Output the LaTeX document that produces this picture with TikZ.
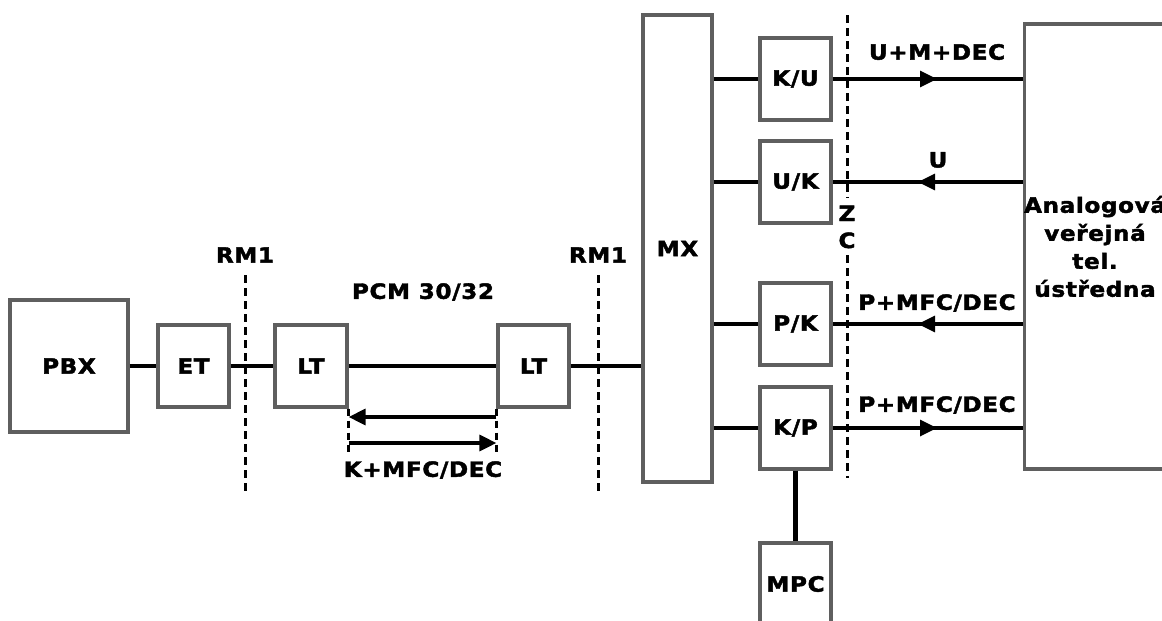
\documentclass[tikz,border=0pt]{standalone}
\usepackage{fontspec}
\setsansfont{DejaVu Sans}[FakeStretch=1.1, LetterSpace=3, BoldFeatures={FakeBold=2}]
\usetikzlibrary{arrows.meta, positioning, decorations.markings}
\definecolor{boxGray}{HTML}{5F5F5F}
\begin{document}
\begin{tikzpicture}[x=1pt, y=-1pt,
  blk/.style={draw=boxGray, line width=3.2pt, fill=white, inner sep=0pt,
    font=\sffamily\bfseries\fontsize{21}{28}\selectfont},
  lbl/.style={font=\sffamily\bfseries\fontsize{21}{27}\selectfont, inner sep=0pt},
  wire/.style={line width=3.2pt},
  cut/.style={line width=3pt, dash pattern=on 8pt off 5pt},
  tick/.style={line width=2.5pt, dash pattern=on 7pt off 5pt},
  tip/.style={-{Triangle[length=17pt,width=16pt]}},
  flow/.style={wire, postaction={decorate}, decoration={markings,
    mark=at position 0.55 with {\arrow{Triangle[length=17pt,width=16pt]}}}},
]
  \useasboundingbox (0,0) rectangle (1162,621);
  % ---- left side: PBX -- ET -- LT ~ LT ----
  \node[blk, minimum width=118, minimum height=132] (pbx) at (69,366) {PBX};
  \node[blk, minimum width=71, minimum height=82] (et) at (193.5,366) {ET};
  \node[blk, minimum width=72, minimum height=82] (lt1) at (311,366) {LT};
  \node[blk, minimum width=71, minimum height=82] (lt2) at (533.5,366) {LT};
  \draw[wire] (pbx.east) -- (et.west);
  \draw[wire] (et.east) -- (lt1.west);
  \draw[wire] (lt1.east) -- (lt2.west);
  \node[lbl] (pcm) at (423,292) {PCM 30/32};
  % signalling between the two LT
  \coordinate (sigY) at (0,456);
  \draw[tick] (lt1.south east) -- (lt1.south east |- sigY);
  \draw[tick] (lt2.south west) -- (lt2.south west |- sigY);
  \coordinate (backY) at (0,417); \coordinate (fwdY) at (0,443);
  \draw[wire, tip] (lt2.south west |- backY) -- (lt1.south east |- backY);
  \draw[wire, tip] (lt1.south east |- fwdY) -- (lt2.south west |- fwdY);
  \node[lbl] (kmfc) at (423,470) {K+MFC/DEC};
  % ---- RM1 cut lines ----
  \coordinate (rmA1) at (245,275); \coordinate (rmA2) at (245,495);
  \coordinate (rmB1) at (598,275); \coordinate (rmB2) at (598,495);
  \draw[cut] (rmA1) -- (rmA2);
  \draw[cut] (rmB1) -- (rmB2);
  \node[lbl] (rmA) at (245,255) {RM1};
  \node[lbl] (rmB) at (598,255) {RM1};
  % ---- multiplexer and converters ----
  \node[blk, minimum width=69, minimum height=467] (mx) at (677.5,248.5) {MX};
  \draw[wire] (lt2.east) -- (lt2.east -| mx.west);
  \node[blk, minimum width=71, minimum height=82] (ku) at (795.5,79) {K/U};
  \node[blk, minimum width=71, minimum height=82] (uk) at (795.5,182) {U/K};
  \node[blk, minimum width=71, minimum height=82] (pk) at (795.5,324) {P/K};
  \node[blk, minimum width=71, minimum height=82] (kp) at (795.5,428) {K/P};
  \node[blk, minimum width=71, minimum height=82] (mpc) at (795.5,584) {MPC};
  \foreach \b in {ku, uk, pk, kp}
    \draw[wire] (mx.east |- \b.west) -- (\b.west);
  \draw[line width=4.5pt] (kp.south) -- (mpc.north);
  % ---- exchange ----
  \node[blk, align=center, minimum width=140, minimum height=445] (an) at (1095,246.5)
    {Analogová\\veřejná\\tel.\\ústředna};
  \draw[flow] (ku.east) -- (ku.east -| an.west);
  \draw[flow] (an.west |- uk.east) -- (uk.east);
  \draw[flow] (an.west |- pk.east) -- (pk.east);
  \draw[flow] (kp.east) -- (kp.east -| an.west);
  \node[lbl] (sKU) at (937,52) {U+M+DEC};
  \node[lbl] (sUK) at (938,160) {U};
  \node[lbl] (sPK) at (937,303) {P+MFC/DEC};
  \node[lbl] (sKP) at (937,405) {P+MFC/DEC};
  % ---- ZC cut line ----
  \coordinate (zc1) at (847,15);  \coordinate (zc2) at (847,198);
  \coordinate (zc3) at (847,255); \coordinate (zc4) at (847,478);
  \draw[cut] (zc1) -- (zc2);
  \draw[cut] (zc3) -- (zc4);
  \node[lbl, align=center] (zc) at (847,227) {Z\\C};
\end{tikzpicture}
\end{document}
